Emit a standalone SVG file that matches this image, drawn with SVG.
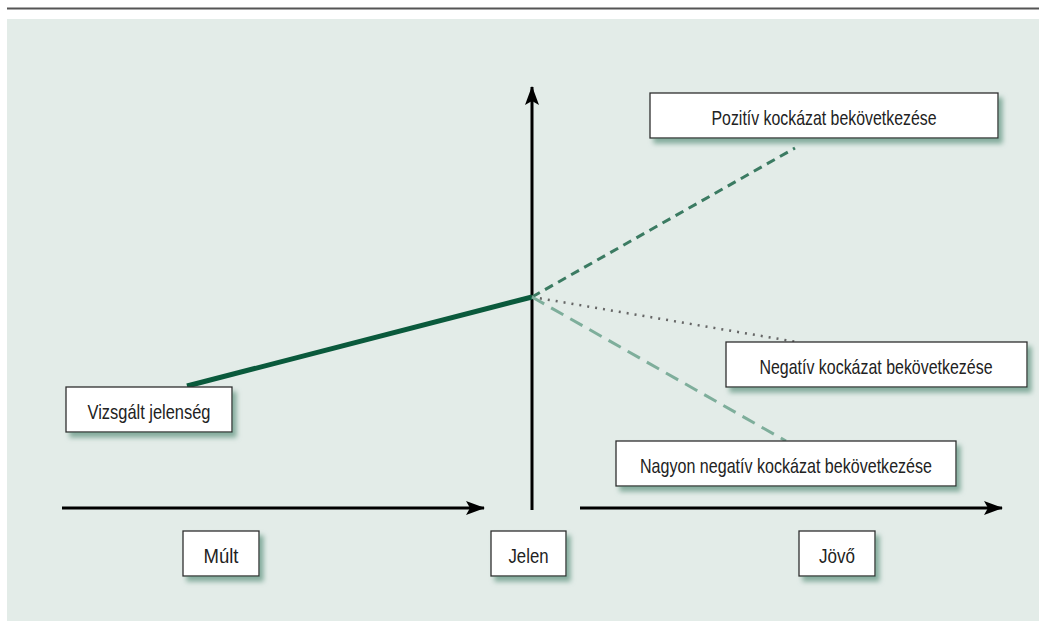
<svg xmlns="http://www.w3.org/2000/svg" width="1039" height="621" viewBox="0 0 1039 621">
<defs>
<style>
.box{fill:#fff;stroke:#2e2e2e;stroke-width:1.3;filter:url(#sh)}
.lbl{font-family:"Liberation Sans",Arial,sans-serif;font-size:21px;fill:#222;text-anchor:middle}
.axis{stroke:#000;stroke-width:3;fill:none}
</style>
<filter id="sh" x="-10%" y="-20%" width="130%" height="160%">
<feDropShadow dx="4" dy="5" stdDeviation="2.5" flood-color="#7aa595" flood-opacity="0.9"/>
</filter>
<marker id="ah" markerUnits="userSpaceOnUse" markerWidth="22" markerHeight="16" refX="18" refY="7" orient="auto">
<path d="M0,0 L19,7 L0,14 L4,7 Z" fill="#000"/>
</marker>
</defs>
<rect x="0" y="0" width="1039" height="621" fill="#fff"/>
<line x1="7" y1="8.5" x2="1039" y2="8.5" stroke="#555" stroke-width="2"/>
<rect x="7" y="19" width="1032" height="602" fill="#e3ece8"/>
<g id="connectors">
<line class="axis" x1="62" y1="508" x2="484" y2="508" marker-end="url(#ah)"/>
<line class="axis" x1="580" y1="508" x2="1002" y2="508" marker-end="url(#ah)"/>
<line class="axis" x1="532" y1="510" x2="532" y2="87" marker-end="url(#ah)"/>
<line x1="187" y1="386" x2="532" y2="297" stroke="#0a5a3c" stroke-width="5"/>
<line x1="532" y1="297" x2="795" y2="148" stroke="#3b7b62" stroke-width="3" stroke-dasharray="9 6"/>
<line x1="532" y1="297" x2="797" y2="342" stroke="#666" stroke-width="2.5" stroke-dasharray="2 6"/>
<line x1="532" y1="297" x2="786" y2="441" stroke="#7eae9b" stroke-width="3" stroke-dasharray="14 8"/>
</g>
<g id="pozitiv">
<rect class="box" x="650" y="93" width="348" height="45"/>
<text class="lbl" x="824" y="124.5" textLength="225" lengthAdjust="spacingAndGlyphs">Pozitív kockázat bekövetkezése</text>
</g>
<g id="negativ">
<rect class="box" x="726" y="342" width="301" height="45"/>
<text class="lbl" x="876" y="373.5" textLength="233" lengthAdjust="spacingAndGlyphs">Negatív kockázat bekövetkezése</text>
</g>
<g id="nagyon">
<rect class="box" x="616" y="441" width="340" height="45"/>
<text class="lbl" x="786" y="472.5" textLength="292" lengthAdjust="spacingAndGlyphs">Nagyon negatív kockázat bekövetkezése</text>
</g>
<g id="vizsgalt">
<rect class="box" x="66" y="387" width="166" height="45"/>
<text class="lbl" x="149" y="418.5" textLength="123" lengthAdjust="spacingAndGlyphs">Vizsgált jelenség</text>
</g>
<g id="mult">
<rect class="box" x="183" y="531" width="76" height="45"/>
<text class="lbl" x="221" y="562.5" textLength="35" lengthAdjust="spacingAndGlyphs">Múlt</text>
</g>
<g id="jelen">
<rect class="box" x="491" y="531" width="75" height="45"/>
<text class="lbl" x="528.5" y="562.5" textLength="40" lengthAdjust="spacingAndGlyphs">Jelen</text>
</g>
<g id="jovo">
<rect class="box" x="799" y="531" width="76" height="45"/>
<text class="lbl" x="837" y="562.5" textLength="36" lengthAdjust="spacingAndGlyphs">Jövő</text>
</g>
</svg>
